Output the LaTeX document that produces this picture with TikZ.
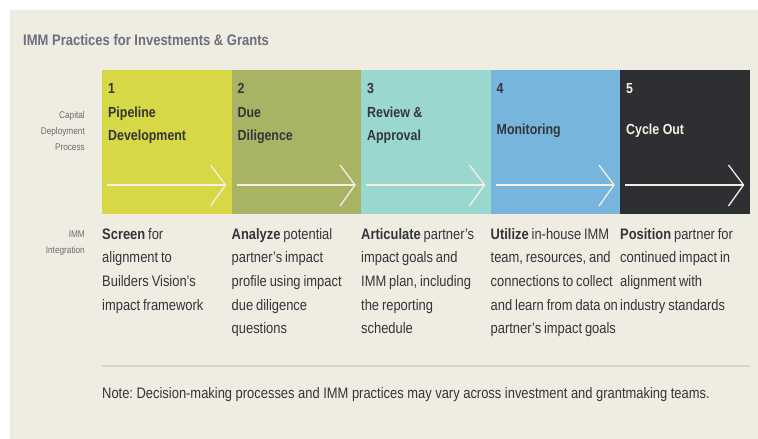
\documentclass[tikz,border=0pt]{standalone}
\usepackage{fontspec}
\setmainfont{Liberation Sans}[FakeStretch=0.85]
\usepackage{xcolor}
\usetikzlibrary{positioning}
\definecolor{paper}{HTML}{EFECE1}
\definecolor{ink}{HTML}{33353B}
\definecolor{titlegray}{HTML}{6C6F7D}
\definecolor{sidegray}{HTML}{6A6B6E}
\definecolor{cream}{HTML}{F2EFE4}
\definecolor{rulegray}{HTML}{D6D4C9}
\definecolor{pipeline}{HTML}{D6D846}
\definecolor{diligence}{HTML}{A8B464}
\definecolor{review}{HTML}{9AD8CF}
\definecolor{monitor}{HTML}{78B5DC}
\definecolor{cycle}{HTML}{2D2F33}
\frenchspacing
\newcommand{\bodyfont}{\fontsize{15.2}{23.7}\selectfont\spaceskip 2.9pt\relax}
\tikzset{%
	stage/.style    = {rectangle, minimum width=129.5pt, minimum height=144pt, inner sep=0pt, outer sep=0pt}, % Stage box
	stepnum/.style  = {anchor=base west, inner sep=0pt, font=\fontsize{14.6}{23}\selectfont\bfseries, text=ink}, % Step number
	heading/.style  = {anchor=base west, inner sep=0pt, align=left, font=\fontsize{14.6}{23}\selectfont\bfseries, text=ink}, % Stage name (base = last line)
	body/.style     = {anchor=base west, inner sep=0pt, align=left, font=\bodyfont, text=ink}, % Integration text
	side/.style     = {anchor=base east, inner sep=0pt, align=right, font=\fontsize{9.7}{16.2}\selectfont, text=sidegray}, % Row label
	flow/.style     = {draw=cream, line width=1.3pt}, % Arrow in box
}

\begin{document}
\begin{tikzpicture}[x=1pt, y=-1pt, node distance = 0pt]
	\useasboundingbox (0,0) rectangle (758,439);
	\fill[paper] (10,10) rectangle (758,439);
	\node[anchor=base west, inner sep=0pt, font=\fontsize{15.3}{18}\selectfont\bfseries, text=titlegray] (title) at (23,45.7) {IMM Practices for Investments \& Grants};
	% stages
	\node[stage, fill=pipeline, anchor=north west] (s1) at (102,70) {};
	\node[stage, fill=diligence, right=of s1] (s2) {};
	\node[stage, fill=review, right=of s2] (s3) {};
	\node[stage, fill=monitor, right=of s3] (s4) {};
	\node[stage, fill=cycle, right=of s4] (s5) {};
	\node[stepnum] (n1) at (108,93) {1};
	\node[stepnum] (n2) at (237.5,93) {2};
	\node[stepnum] (n3) at (367,93) {3};
	\node[stepnum] (n4) at (496.5,93) {4};
	\node[stepnum, text=cream] (n5) at (626,93) {5};
	\node[heading] (h1) at (108,140) {Pipeline\\Development};
	\node[heading] (h2) at (237.5,140) {Due\\Diligence};
	\node[heading] (h3) at (367,140) {Review \&\\Approval};
	\node[heading] (h4) at (496.5,134) {Monitoring};
	\node[heading, text=cream] (h5) at (626,134) {Cycle Out};
	% arrows in the boxes
	\draw[flow] ([shift={(5pt,29pt)}]s1.south west) -- ([shift={(-6pt,29pt)}]s1.south east);
	\draw[flow] ([shift={(-21pt,49pt)}]s1.south east) -- ([shift={(-6pt,29pt)}]s1.south east) -- ([shift={(-21pt,8pt)}]s1.south east);
	\draw[flow] ([shift={(5pt,29pt)}]s2.south west) -- ([shift={(-6pt,29pt)}]s2.south east);
	\draw[flow] ([shift={(-21pt,49pt)}]s2.south east) -- ([shift={(-6pt,29pt)}]s2.south east) -- ([shift={(-21pt,8pt)}]s2.south east);
	\draw[flow] ([shift={(5pt,29pt)}]s3.south west) -- ([shift={(-6pt,29pt)}]s3.south east);
	\draw[flow] ([shift={(-21pt,49pt)}]s3.south east) -- ([shift={(-6pt,29pt)}]s3.south east) -- ([shift={(-21pt,8pt)}]s3.south east);
	\draw[flow] ([shift={(5pt,29pt)}]s4.south west) -- ([shift={(-6pt,29pt)}]s4.south east);
	\draw[flow] ([shift={(-21pt,49pt)}]s4.south east) -- ([shift={(-6pt,29pt)}]s4.south east) -- ([shift={(-21pt,8pt)}]s4.south east);
	\draw[flow] ([shift={(5pt,29pt)}]s5.south west) -- ([shift={(-6pt,29pt)}]s5.south east);
	\draw[flow] ([shift={(-21pt,49pt)}]s5.south east) -- ([shift={(-6pt,29pt)}]s5.south east) -- ([shift={(-21pt,8pt)}]s5.south east);
	% row labels
	\node[side] (capital) at (85,150.4) {Capital\\Deployment\\Process};
	\node[side] (imm) at (85,253.7) {IMM\\Integration};
	% integration text
	\node[body] (t1) at (102,310.1) {\textbf{Screen} for\\alignment to\\Builders Vision's\\impact framework};
	\node[body] (t2) at (231.5,333.8) {\textbf{Analyze} potential\\partner's impact\\profile using impact\\due diligence\\questions};
	\node[body] (t3) at (361,333.8) {\textbf{Articulate} partner's\\impact goals and\\IMM plan, including\\the reporting\\schedule};
	\node[body] (t4) at (490.5,333.8) {\textbf{Utilize} in-house IMM\\team, resources, and\\connections to collect\\and learn from data on\\partner's impact goals};
	\node[body] (t5) at (620,310.1) {\textbf{Position} partner for\\continued impact in\\alignment with\\industry standards};
	\draw[rulegray, line width=1.5pt] (102,366) -- (749.5,366);
	\node[anchor=base west, inner sep=0pt, font=\fontsize{15.2}{18}\selectfont, text=ink] (note) at (102,398) {Note: Decision-making processes and IMM practices may vary across investment and grantmaking teams.};
\end{tikzpicture}
\end{document}
